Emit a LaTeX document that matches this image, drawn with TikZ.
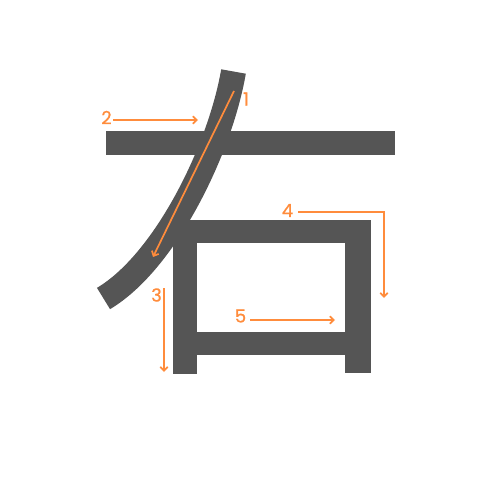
\documentclass[tikz,border=0pt]{standalone}
\usepackage{fontspec}
\setmainfont{Poppins}[FakeBold=0.8]
\usetikzlibrary{arrows.meta}
\definecolor{ink}{HTML}{555555}
\definecolor{ora}{HTML}{FF8C3C}
\tikzset{
  strokeline/.style={line width=25pt, ink},
  orderarrow/.style={ora, line width=1.7pt, -{Straight Barb[length=4pt,width=7.5pt,line width=1.7pt]}},
  numlabel/.style={text=ora, font=\fontsize{18}{18}\selectfont, inner sep=0pt}
}
\begin{document}
\begin{tikzpicture}[x=1pt,y=-1pt]
\useasboundingbox (0,0) rectangle (500,500);
% stroke 2: horizontal bar
\fill[ink] (106,131) rectangle (395,155);
% box strokes
\fill[ink] (173,235) rectangle (197,374);
\fill[ink] (180,220) rectangle (371,243);
\fill[ink] (345,220) rectangle (371,373);
\fill[ink] (185,332) rectangle (371,355);
% stroke 1: curve
\draw[strokeline] (233.5,71.5) .. controls (220,150) and (165,262) .. (103.5,298.5);
% order arrows
\node[numlabel] (n1) at (246,99) {1};
\coordinate (a1s) at (234,91);
\coordinate (a1e) at (153,257);
\draw[orderarrow] (a1s) -- (a1e);
\node[numlabel] (n2) at (106.5,117.5) {2};
\coordinate (a2s) at (113,120);
\coordinate (a2e) at (198,120);
\draw[orderarrow] (a2s) -- (a2e);
\node[numlabel] (n3) at (156.5,295) {3};
\coordinate (a3s) at (164,288);
\coordinate (a3e) at (164,372);
\draw[orderarrow] (a3s) -- (a3e);
\node[numlabel] (n4) at (287.5,210.5) {4};
\coordinate (a4s) at (298,212);
\coordinate (a4c) at (384,212);
\coordinate (a4e) at (384,298);
\draw[orderarrow] (a4s) -- (a4c) -- (a4e);
\node[numlabel] (n5) at (240.5,316) {5};
\coordinate (a5s) at (250,320);
\coordinate (a5e) at (335,320);
\draw[orderarrow] (a5s) -- (a5e);
\end{tikzpicture}
\end{document}
